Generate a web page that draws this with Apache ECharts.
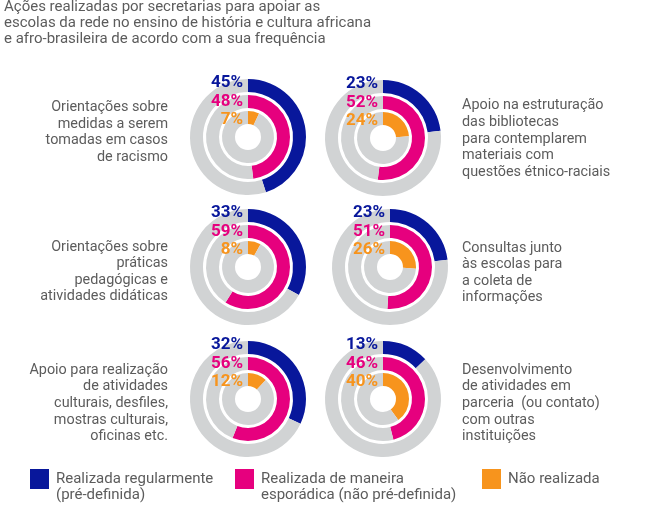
<!DOCTYPE html>
<html><head><meta charset="utf-8">
<script src="https://cdn.jsdelivr.net/npm/echarts@6/dist/echarts.min.js"></script>
<style>html,body{margin:0;padding:0;background:#fff}#c{width:658px;height:513px}</style>
</head><body><div id="c"></div>
<script>
// ---- data ----
const titleText = 'Ações realizadas por secretarias para apoiar as\nescolas da rede no ensino de história e cultura africana\ne afro-brasileira de acordo com a sua frequência';
const actions = [
  'Orientações sobre\nmedidas a serem\ntomadas em casos\nde racismo',
  'Apoio na estruturação\ndas bibliotecas\npara contemplarem\nmateriais com\nquestões étnico-raciais',
  'Orientações sobre\npráticas\npedagógicas e\natividades didáticas',
  'Consultas junto\nàs escolas para\na coleta de\ninformações',
  'Apoio para realização\nde atividades\nculturais, desfiles,\nmostras culturais,\noficinas etc.',
  'Desenvolvimento\nde atividades em\nparceria  (ou contato)\ncom outras\ninstituições'
];
const regular  = [45, 23, 33, 23, 32, 13];
const sporadic = [48, 52, 59, 51, 56, 46];
const notDone  = [7, 24, 8, 26, 12, 40];
const seriesNames = ['Realizada regularmente\n(pré-definida)', 'Realizada de maneira\nesporádica (não pré-definida)', 'Não realizada'];

// ---- layout / style ----
const colors = ['#08179B', '#E6007E', '#F7941D'];
const trackColor = '#D1D3D4';
const textColor = '#5c5c5c';
const centers = [[248,137],[383,138],[248,267],[390,267],[248,399],[383,399]];
const labelSide = ['left','right','left','right','left','right'];
const labelDy = [-4.5, 1, 5, 6, 4.5, 4.5];
const ringRadii = [[45,58],[29,42],[13,26]];
const pctDy = [54, 35, 17];

const chart = echarts.init(document.getElementById('c'), null, {renderer:'canvas'});
const seriesValues = [regular, sporadic, notDone];
const series = [];
const graphic = [];

graphic.push({type:'text', left:4, top:-1, z:100, style:{text:titleText, font:'15px Roboto', fill:textColor, lineHeight:16}});

actions.forEach((name, i) => {
  const [cx, cy] = centers[i];
  seriesValues.forEach((vals, k) => {
    const v = vals[i];
    series.push({
      type:'pie', silent:true, animation:false, z:1,
      center:[cx, cy], radius:ringRadii[k],
      startAngle:90, clockwise:true, padAngle:0,
      label:{show:false}, labelLine:{show:false},
      emphasis:{disabled:true},
      data:[
        {name: seriesNames[k], value: v, itemStyle:{color: colors[k]}},
        {name: 'rest', value: 100 - v, itemStyle:{color: trackColor}}
      ]
    });
    graphic.push({type:'text', x: cx - 5, y: cy - pctDy[k], z:100,
      style:{text: v + '%', font:'bold 17px Roboto', fill: colors[k], align:'right', verticalAlign:'middle'}});
  });
  const left = labelSide[i] === 'left';
  graphic.push({type:'text', x: left ? 168 : 462, y: cy + labelDy[i], z:100,
    style:{text:name, font:'14.4px Roboto', fill:textColor, lineHeight:16.6, align: left ? 'right' : 'left', verticalAlign:'middle'}});
});

// legend
const legendX = [30, 235, 482];
seriesNames.forEach((n, k) => {
  graphic.push({type:'rect', z:100, shape:{x:legendX[k], y:469, width:19, height:20}, style:{fill:colors[k]}});
  graphic.push({type:'text', z:100, x: legendX[k] + 26, y: 471, style:{text:n, font:'15px Roboto', fill:textColor, lineHeight:16, verticalAlign:'top'}});
});

chart.setOption({animation:false, series, graphic});
</script></body></html>
